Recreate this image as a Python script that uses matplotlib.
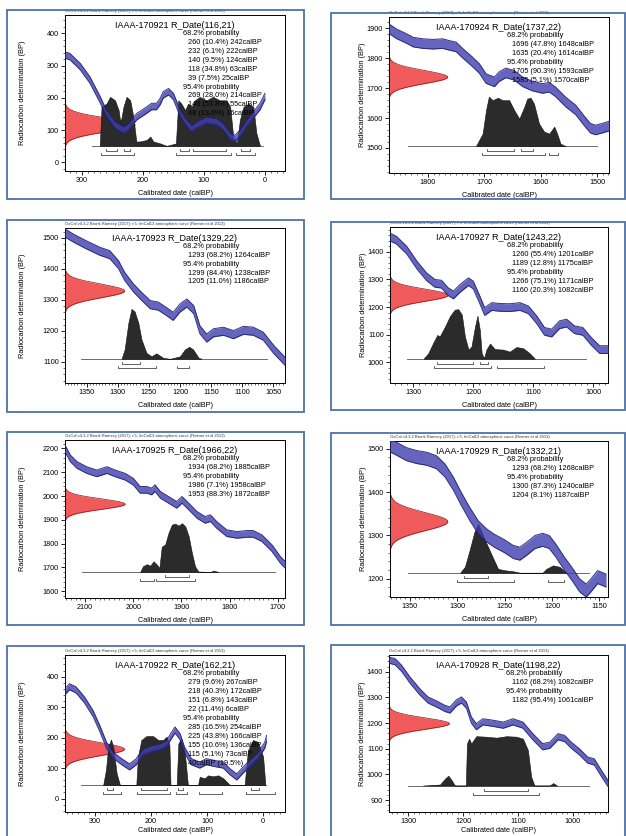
import numpy as np
import matplotlib.pyplot as plt
from matplotlib.patches import Rectangle
from matplotlib.ticker import MultipleLocator

plt.rcParams['font.family'] = ['Liberation Sans', 'DejaVu Sans']

W, H = 626, 836
HEADER = 'OxCal v4.3.2 Bronk Ramsey (2017); r:5; IntCal13 atmospheric curve (Reimer et al 2013)'

# ---------------- data ----------------
# panel 1
p1_name = 'IAAA-170921'
p1_date = (116, 21)
p1_curve_x = [328, 320, 303, 287, 270, 260, 246, 232, 224, 210, 194, 186, 178, 172, 167, 158, 150, 139,
              128, 120, 112, 96, 79, 68, 57, 49, 41, 30, 19, 8, 0]
p1_curve_y = [333, 328, 297, 255, 193, 152, 116, 100, 110, 142, 162, 173, 173, 188, 209, 219, 204, 152,
              121, 105, 116, 131, 126, 110, 80, 74, 90, 121, 147, 173, 204]
p1_post_x = [271, 268, 260, 254, 246, 240, 237, 232, 227, 221, 216, 211, 205, 194, 188, 183, 172, 161,
             146, 142, 137, 131, 126, 120, 115, 107, 96, 85, 74, 63, 57, 52, 46, 41, 35, 27, 19, 14, 8]
p1_post_h = [0, 0.8, 0.86, 1.0, 0.93, 0.73, 0.46, 0.8, 1.0, 0.93, 0.6, 0.09, 0.09, 0.12, 0.19, 0.09, 0.05, 0,
             0.05, 0.93, 0.86, 0.73, 0.86, 0.8, 0.93, 1.0, 0.93, 1.0, 0.93, 0.93, 0.8, 0.19, 0.05, 0.53, 0.8,
             0.86, 0.8, 0.26, 0]
p1_r68 = [(260, 242), (232, 222), (140, 124), (118, 63), (39, 25)]
p1_r95 = [(269, 214), (146, 55), (48, 16)]
p1_lines = ['68.2% probability', '260 (10.4%) 242calBP', '232 (6.1%) 222calBP', '140 (9.5%) 124calBP',
            '118 (34.8%) 63calBP', '39 (7.5%) 25calBP', '95.4% probability', '269 (28.0%) 214calBP',
            '146 (53.8%) 55calBP', '48 (13.6%) 16calBP']

# panel 2
p2_name = 'IAAA-170924'
p2_date = (1737, 22)
p2_curve_x = [1869, 1856, 1838, 1826, 1809, 1791, 1774, 1762, 1750, 1738, 1724, 1709, 1697, 1682, 1674,
              1662, 1647, 1632, 1615, 1597, 1585, 1574, 1556, 1538, 1524, 1512, 1503, 1491, 1479]
p2_curve_y = [1899, 1882, 1866, 1854, 1849, 1847, 1849, 1843, 1838, 1816, 1793, 1766, 1732, 1721, 1738,
              1751, 1743, 1721, 1707, 1699, 1703, 1688, 1654, 1627, 1593, 1566, 1560, 1566, 1573]
p2_post_x = [1715, 1703, 1697, 1692, 1685, 1676, 1668, 1656, 1647, 1638, 1629, 1624, 1618, 1612, 1603,
             1594, 1585, 1576, 1571, 1565, 1556]
p2_post_h = [0, 0.25, 0.72, 0.99, 0.92, 0.97, 0.92, 0.92, 0.72, 0.55, 0.79, 0.95, 0.97, 0.85, 0.45,
             0.29, 0.25, 0.39, 0.25, 0.05, 0]
p2_r68 = [(1696, 1648), (1635, 1614)]
p2_r95 = [(1705, 1593), (1585, 1570)]
p2_lines = ['68.2% probability', '1696 (47.8%) 1648calBP', '1635 (20.4%) 1614calBP', '95.4% probability',
            '1705 (90.3%) 1593calBP', '1585 (5.1%) 1570calBP']

# panel 3
p3_name = 'IAAA-170923'
p3_date = (1329, 22)
p3_curve_x = [1385, 1372, 1351, 1329, 1313, 1299, 1289, 1275, 1262, 1248, 1235, 1222, 1211, 1200, 1189,
              1178, 1168, 1157, 1146, 1130, 1114, 1098, 1082, 1066, 1049, 1031]
p3_curve_y = [1516, 1500, 1478, 1457, 1446, 1414, 1376, 1339, 1312, 1285, 1280, 1263, 1247, 1274, 1290,
              1269, 1204, 1177, 1194, 1199, 1188, 1202, 1199, 1183, 1140, 1102]
p3_post_x = [1294, 1289, 1283, 1278, 1273, 1267, 1262, 1254, 1246, 1238, 1227, 1216, 1200, 1192, 1185,
             1179, 1170, 1165]
p3_post_h = [0, 0.19, 0.72, 1.0, 0.95, 0.72, 0.39, 0.12, 0.05, 0.11, 0.02, 0, 0.05, 0.19, 0.24, 0.19,
             0.02, 0]
p3_r68 = [(1293, 1264)]
p3_r95 = [(1299, 1238), (1205, 1186)]
p3_lines = ['68.2% probability', '1293 (68.2%) 1264calBP', '95.4% probability',
            '1299 (84.4%) 1238calBP', '1205 (11.0%) 1186calBP']

# panel 4
p4_name = 'IAAA-170927'
p4_date = (1243, 22)
p4_curve_x = [1339, 1328, 1311, 1294, 1278, 1264, 1253, 1242, 1233, 1222, 1208, 1200, 1189, 1181, 1169,
              1156, 1139, 1122, 1108, 1094, 1081, 1069, 1056, 1044, 1031, 1017, 1003, 989, 975]
p4_curve_y = [1454, 1442, 1406, 1352, 1310, 1286, 1283, 1256, 1244, 1268, 1292, 1280, 1226, 1184, 1202,
              1199, 1198, 1202, 1190, 1154, 1112, 1106, 1136, 1142, 1118, 1112, 1076, 1046, 1046]
p4_post_x = [1283, 1275, 1267, 1260, 1256, 1247, 1239, 1231, 1225, 1219, 1214, 1208, 1203, 1197, 1193,
             1189, 1186, 1182, 1178, 1172, 1164, 1150, 1139, 1128, 1117, 1106, 1097]
p4_post_h = [0, 0.11, 0.31, 0.47, 0.44, 0.64, 0.84, 0.97, 0.98, 0.87, 0.44, 0.18, 0.24, 0.64, 0.85,
             0.57, 0.11, 0.01, 0.18, 0.30, 0.19, 0.18, 0.14, 0.23, 0.21, 0.11, 0]
p4_r68 = [(1260, 1201), (1189, 1175)]
p4_r95 = [(1266, 1171), (1160, 1082)]
p4_lines = ['68.2% probability', '1260 (55.4%) 1201calBP', '1189 (12.8%) 1175calBP', '95.4% probability',
            '1266 (75.1%) 1171calBP', '1160 (20.3%) 1082calBP']

# panel 5
p5_name = 'IAAA-170925'
p5_date = (1966, 22)
p5_curve_x = [2142, 2131, 2117, 2097, 2076, 2055, 2038, 2017, 2000, 1986, 1972, 1962, 1955, 1944, 1927,
              1910, 1899, 1885, 1868, 1851, 1840, 1827, 1806, 1785, 1764, 1751, 1733, 1712, 1695, 1685]
p5_curve_y = [2200, 2158, 2130, 2109, 2095, 2109, 2095, 2081, 2060, 2026, 2026, 2019, 2033, 2005, 1984,
              1963, 1984, 1956, 1921, 1900, 1907, 1879, 1844, 1837, 1841, 1841, 1823, 1781, 1733, 1712]
p5_post_x = [1986, 1980, 1972, 1965, 1958, 1951, 1946, 1941, 1934, 1927, 1920, 1913, 1906, 1899, 1892,
             1885, 1879, 1872, 1865, 1840, 1834, 1823]
p5_post_h = [0, 0.12, 0.16, 0.13, 0.22, 0.15, 0.08, 0.52, 0.56, 0.80, 0.97, 0.99, 0.95, 1.0, 0.93, 0.73,
             0.42, 0.12, 0.01, 0, 0.03, 0]
p5_r68 = [(1934, 1885)]
p5_r95 = [(1986, 1958), (1953, 1872)]
p5_lines = ['68.2% probability', '1934 (68.2%) 1885calBP', '95.4% probability',
            '1986 (7.1%) 1958calBP', '1953 (88.3%) 1872calBP']

# panel 6
p6_name = 'IAAA-170929'
p6_date = (1332, 21)
p6_curve_x = [1371, 1364, 1354, 1343, 1332, 1322, 1313, 1304, 1296, 1287, 1278, 1269, 1261, 1250, 1241,
              1234, 1227, 1218, 1210, 1203, 1196, 1187, 1178, 1171, 1164, 1159, 1152, 1143]
p6_curve_y = [1508, 1500, 1488, 1481, 1477, 1469, 1450, 1419, 1385, 1350, 1319, 1300, 1288, 1275, 1262,
              1258, 1269, 1285, 1290, 1285, 1265, 1235, 1208, 1185, 1173, 1185, 1204, 1196]
p6_post_x = [1297, 1292, 1287, 1282, 1278, 1275, 1269, 1262, 1257, 1250, 1241, 1234, 1210, 1206, 1199,
             1192, 1185]
p6_post_h = [0, 0.12, 0.46, 0.83, 1.0, 0.86, 0.59, 0.29, 0.08, 0.05, 0.03, 0, 0, 0.08, 0.15, 0.12, 0]
p6_r68 = [(1293, 1268)]
p6_r95 = [(1300, 1240), (1204, 1187)]
p6_lines = ['68.2% probability', '1293 (68.2%) 1268calBP', '95.4% probability',
            '1300 (87.3%) 1240calBP', '1204 (8.1%) 1187calBP']

# panel 7
p7_name = 'IAAA-170922'
p7_date = (162, 21)
p7_curve_x = [353, 345, 333, 318, 303, 291, 279, 267, 252, 238, 226, 214, 199, 184, 172, 163, 157, 148,
              140, 128, 113, 101, 86, 71, 59, 47, 36, 24, 9, -3, -6]
p7_curve_y = [351, 367, 356, 323, 279, 230, 175, 142, 121, 104, 121, 153, 164, 170, 181, 208, 225, 203,
              159, 121, 110, 121, 115, 110, 88, 71, 93, 115, 142, 175, 197]
p7_post_x = [285, 280, 276, 271, 267, 261, 255, 226, 223, 217, 208, 196, 187, 178, 172, 167, 165, 154,
             151, 146, 140, 134, 116, 113, 104, 98, 89, 80, 71, 65, 59, 33, 27, 18, 9, 0, -4]
p7_post_h = [0, 0.31, 0.78, 0.93, 0.78, 0.24, 0, 0, 0.58, 0.92, 1.0, 1.0, 0.92, 0.92, 0.99, 0.82, 0, 0,
             0.85, 0.95, 0.71, 0, 0, 0.17, 0.14, 0.20, 0.18, 0.20, 0.14, 0.07, 0, 0, 0.71, 0.92, 0.88,
             0.58, 0]
p7_r68 = [(279, 267), (218, 172), (151, 143), (22, 8)]
p7_r95 = [(285, 254), (225, 166), (155, 136), (115, 73), (31, -21)]
p7_lines = ['68.2% probability', '279 (9.6%) 267calBP', '218 (40.3%) 172calBP', '151 (6.8%) 143calBP',
            '22 (11.4%) 6calBP', '95.4% probability', '285 (16.5%) 254calBP', '225 (43.8%) 166calBP',
            '155 (10.6%) 136calBP', '115 (5.1%) 73calBP', '40calBP (19.5%)']

# panel 8
p8_name = 'IAAA-170928'
p8_date = (1198, 22)
p8_curve_x = [1335, 1324, 1312, 1297, 1279, 1264, 1248, 1233, 1224, 1212, 1203, 1194, 1185, 1176, 1164,
              1145, 1127, 1109, 1091, 1073, 1055, 1042, 1027, 1015, 1003, 988, 973, 961, 948, 936]
p8_curve_y = [1445, 1439, 1413, 1368, 1322, 1290, 1274, 1257, 1251, 1279, 1290, 1270, 1212, 1186, 1205,
              1199, 1192, 1205, 1192, 1147, 1108, 1114, 1147, 1140, 1114, 1088, 1056, 1049, 1004, 965]
p8_post_x = [1273, 1242, 1233, 1227, 1221, 1215, 1195, 1193, 1189, 1185, 1181, 1176, 1158, 1139, 1121,
             1103, 1091, 1082, 1076, 1070, 1042, 1036, 1029]
p8_post_h = [0, 0.02, 0.14, 0.2, 0.11, 0, 0, 0.85, 0.95, 0.85, 0.92, 1.0, 0.99, 0.97, 1.0, 0.99, 0.95,
             0.72, 0.18, 0, 0, 0.05, 0]
p8_r68 = [(1162, 1082)]
p8_r95 = [(1182, 1061)]
p8_lines = ['68.2% probability', '1162 (68.2%) 1082calBP', '95.4% probability',
            '1182 (95.4%) 1061calBP']

# ---------------- layout (pixels / axis settings) ----------------
panels = [
    dict(name=p1_name, date=p1_date, cx=p1_curve_x, cy=p1_curve_y, px=p1_post_x, ph=p1_post_h,
         r68=p1_r68, r95=p1_r95, lines=p1_lines,
         box=(7, 10, 304, 199), ax=(65, 15, 285, 171), xlim=(328, -33), ylim=(-27, 457),
         xmaj=100, ymaj=100, band=10, amp=115, base=51, ph_scale=152, bl=(284, 3)),
    dict(name=p2_name, date=p2_date, cx=p2_curve_x, cy=p2_curve_y, px=p2_post_x, ph=p2_post_h,
         r68=p2_r68, r95=p2_r95, lines=p2_lines,
         box=(331, 13, 625, 199), ax=(389, 17, 609, 173), xlim=(1869, 1479), ylim=(1416, 1938),
         xmaj=100, ymaj=100, band=16, amp=104, base=1506, ph_scale=167, bl=(1835, 1500)),
    dict(name=p3_name, date=p3_date, cx=p3_curve_x, cy=p3_curve_y, px=p3_post_x, ph=p3_post_h,
         r68=p3_r68, r95=p3_r95, lines=p3_lines,
         box=(7, 220, 304, 412), ax=(65, 228, 285, 383), xlim=(1385, 1031), ylim=(1032, 1532),
         xmaj=50, ymaj=100, band=13, amp=96, base=1110, ph_scale=161, bl=(1359, 1060)),
    dict(name=p4_name, date=p4_date, cx=p4_curve_x, cy=p4_curve_y, px=p4_post_x, ph=p4_post_h,
         r68=p4_r68, r95=p4_r95, lines=p4_lines,
         box=(331, 222, 625, 410), ax=(390, 227, 608, 383), xlim=(1339, 975), ylim=(925, 1490),
         xmaj=100, ymaj=100, band=14, amp=97, base=1013, ph_scale=183, bl=(1311, 1011)),
    dict(name=p5_name, date=p5_date, cx=p5_curve_x, cy=p5_curve_y, px=p5_post_x, ph=p5_post_h,
         r68=p5_r68, r95=p5_r95, lines=p5_lines,
         box=(7, 432, 304, 625), ax=(65, 440, 285, 598), xlim=(2142, 1685), ylim=(1572, 2235),
         xmaj=100, ymaj=100, band=14, amp=125, base=1681, ph_scale=205, bl=(2107, 1706)),
    dict(name=p6_name, date=p6_date, cx=p6_curve_x, cy=p6_curve_y, px=p6_post_x, ph=p6_post_h,
         r68=p6_r68, r95=p6_r95, lines=p6_lines,
         box=(331, 433, 625, 625), ax=(390, 441, 608, 597), xlim=(1371, 1141), ylim=(1158, 1518),
         xmaj=50, ymaj=100, band=15, amp=61, base=1214, ph_scale=113, bl=(1352, 1161)),
    dict(name=p7_name, date=p7_date, cx=p7_curve_x, cy=p7_curve_y, px=p7_post_x, ph=p7_post_h,
         r68=p7_r68, r95=p7_r95, lines=p7_lines,
         box=(7, 646, 304, 840), ax=(65, 655, 285, 812), xlim=(353, -39), ylim=(-44, 471),
         xmaj=100, ymaj=100, band=10, amp=106, base=44, ph_scale=161, bl=(324, -6)),
    dict(name=p8_name, date=p8_date, cx=p8_curve_x, cy=p8_curve_y, px=p8_post_x, ph=p8_post_h,
         r68=p8_r68, r95=p8_r95, lines=p8_lines,
         box=(331, 645, 625, 840), ax=(389, 655, 608, 812), xlim=(1335, 936), ylim=(854, 1465),
         xmaj=100, ymaj=100, band=12, amp=110, base=957, ph_scale=192, bl=(1300, 970)),
]

fig = plt.figure(figsize=(W / 100, H / 100), dpi=100)

for i, p in enumerate(panels):
    # outer frame
    bx0, by0, bx1, by1 = p['box']
    fig.patches.append(Rectangle((bx0 / W, 1 - by1 / H), (bx1 - bx0) / W, (by1 - by0) / H,
                                 transform=fig.transFigure, fill=False, ec='#4d71a8', lw=1.3))
    ax0, ay0, ax1, ay1 = p['ax']
    ax = fig.add_axes([ax0 / W, 1 - ay1 / H, (ax1 - ax0) / W, (ay1 - ay0) / H])
    ax.set_xlim(*p['xlim'])
    ax.set_ylim(*p['ylim'])
    dy = (p['ylim'][1] - p['ylim'][0]) / (ay1 - ay0)  # data units per pixel

    # measured date (red)
    mu, sd = p['date']
    yy = np.linspace(mu - 4 * sd, mu + 4 * sd, 200)
    g = np.exp(-0.5 * ((yy - mu) / sd) ** 2)
    xl = p['xlim'][0]
    ax.fill_betweenx(yy, xl, xl - p['amp'] * g, color='#f04848', alpha=0.9, lw=0, zorder=2)
    ax.plot(xl - p['amp'] * g, yy, color='#8a1a1a', lw=0.5, zorder=2)

    # posterior
    px = np.array(p['px'], float)
    ph = p['base'] + p['ph_scale'] * np.array(p['ph'])
    ax.plot(p['bl'], [p['base'], p['base']], color='#555555', lw=0.6, zorder=2)
    ax.fill_between(px, p['base'], ph, color='#2b2b2b', lw=0.4, ec='#111111', zorder=3)

    # calibration curve band
    cx = np.array(p['cx'], float)
    cy = np.array(p['cy'], float)
    ax.fill_between(cx, cy - p['band'], cy + p['band'], color='#3f3fb0', alpha=0.8, lw=0, zorder=4)
    ax.plot(cx, cy + p['band'], color='#1e1e6e', lw=0.7, alpha=0.9, zorder=4)
    ax.plot(cx, cy - p['band'], color='#1e1e6e', lw=0.7, alpha=0.9, zorder=4)

    # range brackets
    for ranges, off in ((p['r68'], 5), (p['r95'], 9)):
        yb = p['base'] - off * dy
        for s, e in ranges:
            ax.plot([s, s, e, e], [yb + 2 * dy, yb, yb, yb + 2 * dy], color='#222222', lw=0.5, zorder=5)

    # texts
    ax.text(0.5, 0.935, p['name'] + ' R_Date(%d,%d)' % p['date'], transform=ax.transAxes,
            ha='center', va='center', fontsize=6.5, zorder=6)
    yt = 0.88
    for ln in p['lines']:
        xt = 0.535 if 'probability' in ln else 0.56
        ax.text(xt, yt, ln, transform=ax.transAxes, ha='left', va='center', fontsize=5.3, zorder=6)
        yt -= 0.057
    ax.text(0.0, 1.012, HEADER, transform=ax.transAxes, ha='left', va='bottom', fontsize=3.0,
            color='#333333')

    # axes style
    ax.xaxis.set_major_locator(MultipleLocator(p['xmaj']))
    ax.xaxis.set_minor_locator(MultipleLocator(p['xmaj'] / 10))
    ax.yaxis.set_major_locator(MultipleLocator(p['ymaj']))
    ax.yaxis.set_minor_locator(MultipleLocator(p['ymaj'] / 5))
    ax.tick_params(which='major', direction='out', length=3, width=0.6, labelsize=5.2, pad=1.5)
    ax.tick_params(which='minor', direction='out', length=1.5, width=0.4)
    for sp in ax.spines.values():
        sp.set_linewidth(0.7)
    ax.set_xlabel('Calibrated date (calBP)', fontsize=5.2)
    ax.set_ylabel('Radiocarbon determination (BP)', fontsize=5.3)
    ax.xaxis.set_label_coords(0.5, -0.12 if i < 6 else -0.095)
    ax.yaxis.set_label_coords(-0.175 if i % 2 == 0 else -0.105, 0.5)

fig.savefig('out.png', dpi=100)
